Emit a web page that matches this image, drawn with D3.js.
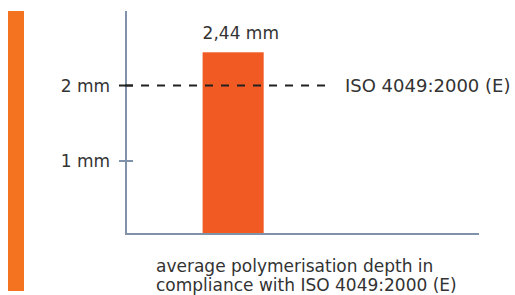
<!DOCTYPE html>
<html><head><meta charset="utf-8">
<script src="https://cdn.jsdelivr.net/npm/d3@7"></script>
<style>
body{margin:0;background:#fff;}
text{font-family:"DejaVu Sans",Verdana,sans-serif;fill:#333;}
</style></head>
<body>
<svg id="c" width="515" height="295"></svg>
<script>
const categories = ["average polymerisation depth in compliance with ISO 4049:2000 (E)"];
const values = [2.44];
const valueLabels = ["2,44 mm"];
const tickValues = [1, 2];
const tickLabels = ["1 mm", "2 mm"];
const referenceValue = [2];
const referenceLabel = ["ISO 4049:2000 (E)"];
const labelLines = ["average polymerisation depth in", "compliance with ISO 4049:2000 (E)"];

const svg = d3.select("#c");
const axisColor = "#8091aa";

// decorative left stripe
svg.append("rect").attr("x", 8).attr("y", 11).attr("width", 16).attr("height", 280).attr("fill", "#f47321");

const y = d3.scaleLinear().domain([0, 2.44]).range([236.5, 52.3]);
const barX = d3.scaleLinear().domain([0, 1]).range([126, 479]);

const baseY = 234;
// bar
svg.selectAll("rect.bar").data(values).join("rect").attr("class", "bar")
  .attr("x", barX(0.217)).attr("width", barX(0.39) - barX(0.217))
  .attr("y", d => y(d)).attr("height", d => baseY - y(d))
  .attr("fill", "#f15a22");

// axes
svg.append("line").attr("x1", 126).attr("x2", 126).attr("y1", 11).attr("y2", baseY + 1)
  .attr("stroke", axisColor).attr("stroke-width", 2);
svg.append("line").attr("x1", 125).attr("x2", 479).attr("y1", baseY).attr("y2", baseY)
  .attr("stroke", axisColor).attr("stroke-width", 2);

// ticks
tickValues.forEach((t, i) => {
  svg.append("line").attr("x1", 119).attr("x2", 133).attr("y1", y(t)).attr("y2", y(t))
    .attr("stroke", t === referenceValue[0] ? "#222" : axisColor).attr("stroke-width", 2);
  svg.append("text").attr("x", 110).attr("y", y(t)).attr("dy", "0.36em")
    .attr("text-anchor", "end").style("font-size", "17px").text(tickLabels[i]);
});

// reference line
svg.selectAll("line.ref").data(referenceValue).join("line").attr("class", "ref")
  .attr("x1", 125).attr("x2", 325).attr("y1", d => y(d)).attr("y2", d => y(d))
  .attr("stroke", "#222").attr("stroke-width", 2).attr("stroke-dasharray", "8,8");
svg.append("text").attr("x", 345).attr("y", y(referenceValue[0])).attr("dy", "0.36em")
  .style("font-size", "18px").text(referenceLabel[0]);

// value label
svg.selectAll("text.val").data(values).join("text").attr("class", "val")
  .attr("x", barX(0.217)).attr("y", d => y(d) - 13)
  .style("font-size", "17px").text((d, i) => valueLabels[i]);

// category label
const cl = svg.append("text").attr("x", 156).attr("y", 272).style("font-size", "17px");
labelLines.forEach((l, i) => cl.append("tspan").attr("x", 156).attr("dy", i ? 19 : 0).text(l));
</script>
</body></html>
